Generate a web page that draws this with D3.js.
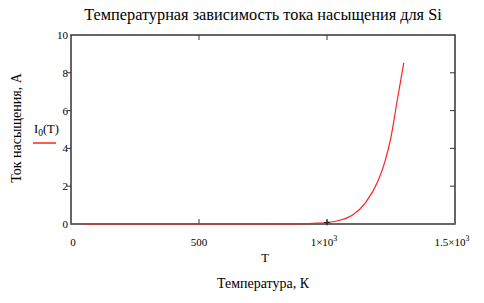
<!DOCTYPE html>
<html>
<head>
<meta charset="utf-8">
<script src="https://cdn.jsdelivr.net/npm/d3@7"></script>
<style>
  body { margin: 0; background: #fff; }
</style>
</head>
<body>
<svg id="chart" width="484" height="303" font-family="'Liberation Serif', 'Times New Roman', serif"></svg>
<script>
const width = 484;
const height = 303;
const margin = { top: 35, right: 29, bottom: 79, left: 71 };

// temperature, K
const temps = [50, 100, 200, 300, 400, 500, 600, 700, 800, 850, 900, 950, 1000, 1050, 1100, 1150, 1200, 1225, 1250, 1275, 1300];
// saturation current, A
const current = [0, 0, 0, 0, 0, 0, 0, 0, 0.002, 0.005, 0.012, 0.035, 0.08, 0.2, 0.48, 1.12, 2.3, 3.25, 4.6, 6.6, 8.53];

const xTicks = [0, 500, 1000, 1500];
const xTickLabels = ["0", "500", "1×10", "1.5×10"];
const yTicks = [0, 2, 4, 6, 8, 10];

const data = temps.map((t, i) => ({ t, v: current[i] }));

const x = d3.scaleLinear().domain([0, 1500]).range([margin.left, width - margin.right]);
const y = d3.scaleLinear().domain([0, 10]).range([height - margin.bottom, margin.top]);

const svg = d3.select("#chart");
const axisColor = "#333";

// frame
svg.append("rect")
  .attr("x", x(0)).attr("y", y(10))
  .attr("width", x(1500) - x(0)).attr("height", y(0) - y(10))
  .attr("fill", "none").attr("stroke", axisColor).attr("stroke-width", 1.5);

// bottom axis line in grey
svg.append("line")
  .attr("x1", x(0)).attr("x2", x(1500))
  .attr("y1", y(0)).attr("y2", y(0))
  .attr("stroke", "#666").attr("stroke-width", 2);

// y ticks: left (outward) and right (inward)
const yInner = yTicks.filter((d) => d > 0 && d < 10);
svg.selectAll(".ytl").data(yInner).join("line")
  .attr("x1", x(0) - 4).attr("x2", x(0))
  .attr("y1", (d) => y(d)).attr("y2", (d) => y(d))
  .attr("stroke", axisColor);
svg.selectAll(".ytr").data(yInner).join("line")
  .attr("x1", x(1500) - 5).attr("x2", x(1500))
  .attr("y1", (d) => y(d)).attr("y2", (d) => y(d))
  .attr("stroke", axisColor);

// x ticks: top and bottom, inward
const xInner = xTicks.filter((d) => d > 0 && d < 1500);
svg.selectAll(".xtt").data(xInner).join("line")
  .attr("x1", (d) => x(d)).attr("x2", (d) => x(d))
  .attr("y1", y(10)).attr("y2", y(10) + 5)
  .attr("stroke", axisColor);
svg.selectAll(".xtb").data(xInner).join("line")
  .attr("x1", (d) => x(d)).attr("x2", (d) => x(d))
  .attr("y1", y(0)).attr("y2", y(0) - 5)
  .attr("stroke", axisColor);

// y tick labels
svg.selectAll(".ylab").data(yTicks).join("text")
  .attr("x", x(0) - 3)
  .attr("y", (d) => y(d) + 4)
  .attr("text-anchor", "end")
  .attr("font-size", 11)
  .text((d) => d);

// x tick labels
const xl = svg.selectAll(".xlab").data(xTicks).join("text")
  .attr("x", (d, i) => x(d) + (i === 0 ? 2 : i === 1 ? 0 : -3))
  .attr("y", 246)
  .attr("text-anchor", "middle")
  .attr("font-size", 11);
xl.text((d, i) => xTickLabels[i]);
xl.filter((d, i) => i >= 2).append("tspan")
  .attr("dy", -5).attr("font-size", 8).text("3");

// curve
const line = d3.line()
  .x((d) => x(d.t))
  .y((d) => y(d.v))
  .curve(d3.curveMonotoneX);

svg.append("path")
  .datum(data)
  .attr("d", line)
  .attr("fill", "none")
  .attr("stroke", "#ff2020")
  .attr("stroke-width", 1.2);

// small cross marker at 1000
svg.append("path")
  .attr("d", `M${x(1000) - 3},${y(0.08)}h6M${x(1000)},${y(0.08) - 3}v6`)
  .attr("stroke", "#222").attr("stroke-width", 1);

// title
svg.append("text")
  .attr("x", 263).attr("y", 20)
  .attr("text-anchor", "middle")
  .attr("font-size", 16.3)
  .text("Температурная зависимость тока насыщения для Si");

// y axis title
svg.append("text")
  .attr("transform", "translate(21,128) rotate(-90)")
  .attr("text-anchor", "middle")
  .attr("font-size", 14)
  .text("Ток насыщения, А");

// legend
const leg = svg.append("text")
  .attr("x", 34).attr("y", 133)
  .attr("font-size", 12.5);
leg.append("tspan").text("I");
leg.append("tspan").attr("dy", 3).attr("font-size", 9.5).text("0");
leg.append("tspan").attr("dy", -3).text("(T)");
svg.append("line")
  .attr("x1", 33).attr("x2", 56)
  .attr("y1", 143).attr("y2", 143)
  .attr("stroke", "#ff2020").attr("stroke-width", 1.5);

// x axis labels
svg.append("text")
  .attr("x", 265).attr("y", 262)
  .attr("text-anchor", "middle")
  .attr("font-size", 12.5)
  .text("T");
svg.append("text")
  .attr("x", 263).attr("y", 288)
  .attr("text-anchor", "middle")
  .attr("font-size", 14)
  .text("Температура, К");
</script>
</body>
</html>
